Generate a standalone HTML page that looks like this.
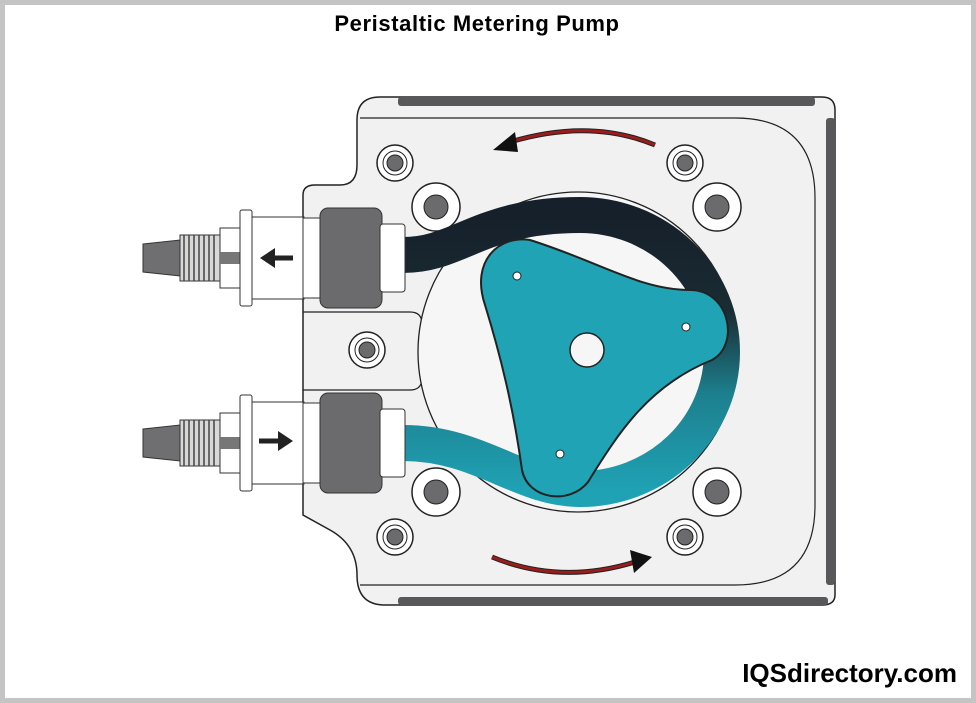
<!DOCTYPE html>
<html><head><style>
html,body{margin:0;padding:0;background:#fff}
.w{position:relative;width:976px;height:703px;box-sizing:border-box;border:5px solid #c4c4c4;background:#fff;overflow:hidden}
.t{position:absolute;left:0;width:944px;top:6px;text-align:center;font:bold 22px "Liberation Sans",sans-serif;color:#000;letter-spacing:0.6px}
.l{position:absolute;right:14px;top:653px;font:bold 26px "Liberation Sans",sans-serif;color:#000}
svg{position:absolute;left:-5px;top:-5px}
</style></head><body><div class="w">
<svg width="976" height="703" viewBox="0 0 976 703">
<defs>
<linearGradient id="g" gradientUnits="userSpaceOnUse" x1="0" y1="215" x2="0" y2="490">
<stop offset="0" stop-color="#16202a"/><stop offset="0.35" stop-color="#1a2c33"/><stop offset="0.65" stop-color="#1d7f8e"/><stop offset="1" stop-color="#1fa2b4"/></linearGradient>
<g id="fit">
<path d="M143,-14 L180,-18 L180,18 L143,14 Z" fill="#6f6f72" stroke="#333"/>
<rect x="180" y="-23" width="40" height="46" fill="#d8d8d8" stroke="#333"/>
<g stroke="#444" stroke-width="1.5"><line x1="184" y1="-23" x2="184" y2="23"/><line x1="189" y1="-23" x2="189" y2="23"/><line x1="194" y1="-23" x2="194" y2="23"/><line x1="199" y1="-23" x2="199" y2="23"/><line x1="204" y1="-23" x2="204" y2="23"/><line x1="209" y1="-23" x2="209" y2="23"/><line x1="214" y1="-23" x2="214" y2="23"/></g>
<rect x="220" y="-30" width="20" height="60" fill="#fff" stroke="#333"/>
<rect x="220" y="-6" width="20" height="12" fill="#777"/>
<rect x="240" y="-48" width="12" height="96" rx="2" fill="#fff" stroke="#333"/>
<rect x="252" y="-41" width="52" height="82" fill="#fff" stroke="#333"/>
<rect x="303" y="-40" width="20" height="80" fill="#fff" stroke="#333"/>
<rect x="320" y="-50" width="62" height="100" rx="8" fill="#6b6b6e" stroke="#333"/>
<rect x="380" y="-34" width="25" height="68" rx="3" fill="#fff" stroke="#333"/>
</g>
<g id="bb"><circle r="24" fill="#fff" stroke="#222" stroke-width="1.5"/><circle r="12" fill="#6b6b6e" stroke="#222"/></g>
<g id="sb"><circle r="18" fill="#fff" stroke="#222" stroke-width="1.5"/><circle r="12" fill="#fff" stroke="#222"/><circle r="8" fill="#6b6b6e" stroke="#222"/></g>
</defs>
<path d="M380,97 L822,97 Q835,97 835,110 L835,595 Q835,605 822,605 L385,605 Q357,605 357,575 Q357,545 330,530 L303,515 L303,195 Q303,185 315,185 L340,185 Q357,185 357,165 L357,120 Q357,97 380,97 Z" fill="#f1f1f1" stroke="#222" stroke-width="1.5"/>
<path d="M360,118 L735,118 Q815,118 815,198 L815,505 Q815,585 735,585 L360,585" fill="none" stroke="#222" stroke-width="1.2"/>
<path d="M303,312 L410,312 Q422,312 422,324 L422,378 Q422,390 410,390 L303,390" fill="none" stroke="#222" stroke-width="1.2"/>
<rect x="398" y="97" width="417" height="9" rx="3" fill="#58585b"/>
<rect x="826" y="118" width="9" height="467" rx="3" fill="#58585b"/>
<rect x="398" y="597" width="430" height="8" rx="3" fill="#58585b"/>
<circle cx="578" cy="352" r="160" fill="#f6f6f6" stroke="#222" stroke-width="1.3"/>
<use href="#bb" x="436" y="207"/><use href="#bb" x="717" y="207"/><use href="#bb" x="436" y="492"/><use href="#bb" x="717" y="492"/>
<use href="#sb" x="395" y="163"/><use href="#sb" x="685" y="163"/><use href="#sb" x="395" y="537"/><use href="#sb" x="685" y="537"/><use href="#sb" x="367" y="350"/>
<path d="M403,255 C460,255 480,215 580,215 A142,137 0 0 1 580,489 C520,489 480,443 403,443" fill="none" stroke="url(#g)" stroke-width="36"/>
<path d="M530,240 C600,262 640,290 690,290 C730,290 740,345 712,360 C650,385 620,430 588,482 C570,505 528,500 522,470 C515,420 505,370 485,305 C470,260 500,235 530,240 Z" fill="#1fa3b5" stroke="#222" stroke-width="2"/>
<circle cx="517" cy="276" r="4" fill="#fff" stroke="#222"/>
<circle cx="686" cy="327" r="4" fill="#fff" stroke="#222"/>
<circle cx="560" cy="454" r="4" fill="#fff" stroke="#222"/>
<circle cx="587" cy="350" r="17" fill="#f6f6f6" stroke="#222" stroke-width="1.5"/>
<use href="#fit" x="0" y="258"/>
<use href="#fit" x="0" y="443"/>
<path d="M293,258 L272,258" stroke="#222" stroke-width="5"/><path d="M260,258 L275,248 L275,268 Z" fill="#222"/>
<path d="M259,441 L280,441" stroke="#222" stroke-width="5"/><path d="M293,441 L278,431 L278,451 Z" fill="#222"/>
<path d="M655,145 Q590,118 510,142" fill="none" stroke="#222" stroke-width="5"/>
<path d="M655,145 Q590,118 510,142" fill="none" stroke="#9a1c1c" stroke-width="3"/>
<path d="M493,150 L515,132 L518,152 Z" fill="#111"/>
<path d="M492,557 Q560,585 635,562" fill="none" stroke="#222" stroke-width="5"/>
<path d="M492,557 Q560,585 635,562" fill="none" stroke="#9a1c1c" stroke-width="3"/>
<path d="M652,557 L630,550 L634,573 Z" fill="#111"/>
</svg>
<div class="t">Peristaltic Metering Pump</div>
<div class="l">IQSdirectory.com</div>
</div></body></html>
